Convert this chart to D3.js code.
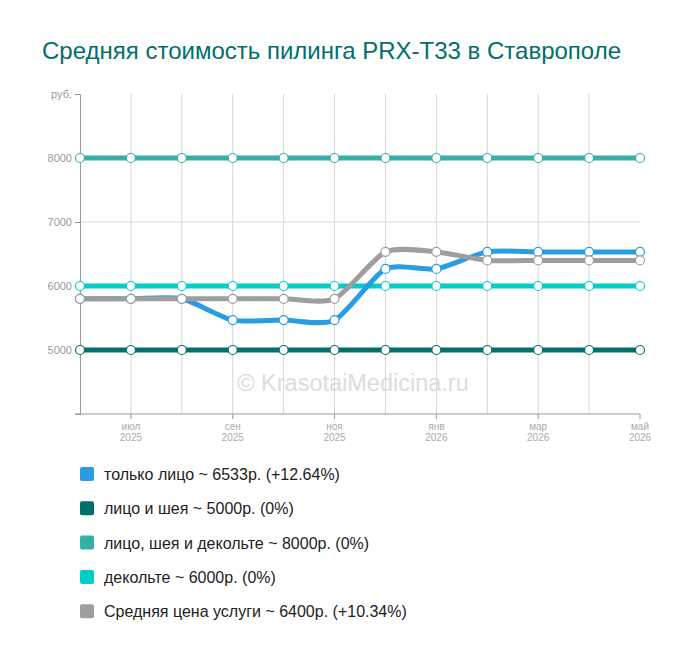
<!DOCTYPE html>
<html>
<head>
<meta charset="utf-8">
<script src="https://d3js.org/d3.v7.min.js"></script>
<title>PRX-T33</title>
<style>
  body { margin: 0; background: #fff; }
</style>
</head>
<body>
<svg id="chart"></svg>
<script>
// months from June 2025 to May 2026
const months = ["июн", "июл", "авг", "сен", "окт", "ноя", "дек", "янв", "фев", "мар", "апр", "май"];
const years  = ["2025", "2025", "2025", "2025", "2025", "2025", "2025", "2026", "2026", "2026", "2026", "2026"];

const faceOnly   = [5800, 5800, 5800, 5467, 5467, 5467, 6267, 6267, 6533, 6533, 6533, 6533];
const faceNeck   = [5000, 5000, 5000, 5000, 5000, 5000, 5000, 5000, 5000, 5000, 5000, 5000];
const faceNeckDc = [8000, 8000, 8000, 8000, 8000, 8000, 8000, 8000, 8000, 8000, 8000, 8000];
const decollete  = [6000, 6000, 6000, 6000, 6000, 6000, 6000, 6000, 6000, 6000, 6000, 6000];
const average    = [5800, 5800, 5800, 5800, 5800, 5800, 6533, 6533, 6400, 6400, 6400, 6400];

const yTicks = [4000, 5000, 6000, 7000, 8000, 9000];

const series = [
    {name: "только лицо ~ 6533р. (+12.64%)", values: faceOnly, color: "#2a9de0"},
    {name: "лицо и шея ~ 5000р. (0%)", values: faceNeck, color: "#00716a"},
    {name: "лицо, шея и декольте ~ 8000р. (0%)", values: faceNeckDc, color: "#36b0a6"},
    {name: "декольте ~ 6000р. (0%)", values: decollete, color: "#00cfc7"},
    {name: "Средняя цена услуги ~ 6400р. (+10.34%)", values: average, color: "#9e9e9e"}
];

const width = 700, height = 659;
const font = "Arial, 'Liberation Sans', sans-serif";
const svg = d3.select("svg#chart")
              .attr("width", width)
              .attr("height", height)
              .style("font-family", font);

const x = d3.scaleLinear().domain([0, months.length - 1]).range([80, 640]);
const y = d3.scaleLinear().domain([4000, 9000]).range([414, 94]);

// title
svg.append("text")
   .attr("x", 42).attr("y", 59)
   .attr("font-size", 24)
   .attr("fill", "#00706a")
   .text("Средняя стоимость пилинга PRX-T33 в Ставрополе");

// watermark (below grid)
svg.append("text")
   .attr("x", 353).attr("y", 391)
   .attr("text-anchor", "middle")
   .attr("font-size", 23.5)
   .attr("fill", "#dcdcdc")
   .text("© KrasotaiMedicina.ru");

// grid
const grid = svg.append("g");
grid.selectAll("line.v").data(d3.range(1, months.length - 1))
    .join("line")
    .attr("x1", d => x(d)).attr("x2", d => x(d))
    .attr("y1", y(9000)).attr("y2", y(4000))
    .attr("stroke", "#d6d6d6");
grid.selectAll("line.h").data(yTicks.slice(1, -1))
    .join("line")
    .attr("x1", x(0)).attr("x2", x(months.length - 1))
    .attr("y1", d => y(d)).attr("y2", d => y(d))
    .attr("stroke", "#d6d6d6");

// y axis
const yAxis = svg.append("g")
    .attr("transform", `translate(${x(0)},0)`)
    .call(d3.axisLeft(y).tickValues(yTicks).tickSize(5).tickSizeOuter(0)
          .tickFormat(d => d === 9000 ? "руб." : d === 4000 ? "" : d));
yAxis.select(".domain").attr("stroke", "#999");
yAxis.selectAll(".tick line").attr("stroke", "#999");
yAxis.selectAll(".tick text").attr("fill", "#999").attr("font-size", 11)
     .attr("font-family", font);

// x axis
const xAxisG = svg.append("g").attr("transform", `translate(0,${y(4000)})`);
xAxisG.append("line")
      .attr("x1", x(0) - 5).attr("x2", x(months.length - 1))
      .attr("stroke", "#999");
const labelIdx = d3.range(1, months.length, 2);
xAxisG.selectAll("line.tk").data(labelIdx)
      .join("line")
      .attr("x1", d => x(d)).attr("x2", d => x(d))
      .attr("y1", 0).attr("y2", 5)
      .attr("stroke", "#999");
const lbl = xAxisG.selectAll("text").data(labelIdx)
      .join("text")
      .attr("text-anchor", "middle")
      .attr("font-size", 10)
      .attr("fill", "#aaa");
lbl.append("tspan").attr("x", d => x(d)).attr("y", 16).text(d => months[d]);
lbl.append("tspan").attr("x", d => x(d)).attr("y", 27).text(d => years[d]);

// lines
const line = d3.line()
    .x((d, i) => x(i))
    .y(d => y(d))
    .curve(d3.curveCardinal.tension(0.3));

const drawOrder = [2, 3, 1, 0, 4];
drawOrder.forEach(k => {
    const s = series[k];
    svg.append("path")
       .attr("d", line(s.values))
       .attr("fill", "none")
       .attr("stroke", s.color)
       .attr("stroke-width", 5);
});
drawOrder.forEach(k => {
    const s = series[k];
    svg.append("g").selectAll("circle").data(s.values)
       .join("circle")
       .attr("cx", (d, i) => x(i))
       .attr("cy", d => y(d))
       .attr("r", 4.5)
       .attr("fill", "#fff")
       .attr("stroke", s.color)
       .attr("stroke-width", 1.2);
});

// legend
const legend = svg.append("g").selectAll("g").data(series)
    .join("g")
    .attr("transform", (d, i) => `translate(80,${474 + i * 34.3})`);
legend.append("rect")
      .attr("x", 0).attr("y", -7)
      .attr("width", 14).attr("height", 14)
      .attr("rx", 2)
      .attr("fill", d => d.color);
legend.append("text")
      .attr("x", 24).attr("y", 6)
      .attr("font-size", 16)
      .attr("fill", "#222")
      .text(d => d.name);
</script>
</body>
</html>
